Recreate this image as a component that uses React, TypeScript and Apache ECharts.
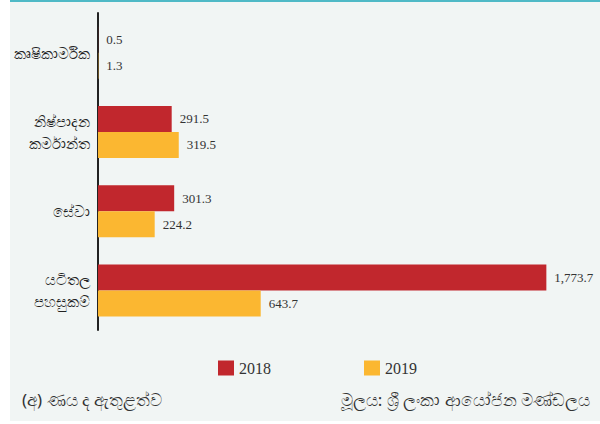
import React, { useEffect, useRef } from "react";
import * as echarts from "echarts";

const categories = ["කෘෂිකාර්මික", "නිෂ්පාදන\nකර්මාන්ත", "සේවා", "යටිතල\nපහසුකම්"];
const values2018 = [0.5, 291.5, 301.3, 1773.7];
const values2019 = [1.3, 319.5, 224.2, 643.7];
const seriesNames = ["2018", "2019"];
const footnoteLeft = "(අ) ණය ද ඇතුළත්ව";
const footnoteRight = "මූලය: ශ්‍රී ලංකා ආයෝජන මණ්ඩලය";

const RED = "#c1272d";
const YELLOW = "#fbb731";
const SERIF = "Liberation Serif";
const SANS = "Noto Sans";

const fmt = (v: number) =>
  v.toLocaleString("en-US", { minimumFractionDigits: 1, maximumFractionDigits: 1 });

export default function App() {
  const ref = useRef<HTMLDivElement>(null);
  useEffect(() => {
    if (!ref.current) return;
    const chart = echarts.init(ref.current, null, { renderer: "svg" });
    const label = {
      show: true,
      position: "right" as const,
      distance: 8,
      color: "#333",
      fontFamily: SERIF,
      fontSize: 13,
      formatter: (p: any) => fmt(p.value),
    };
    chart.setOption({
      animation: false,
      backgroundColor: "#ffffff",
      textStyle: { fontFamily: SERIF },
      graphic: [
        { type: "rect", z: -10, shape: { x: 10, y: 0, width: 590, height: 421 }, style: { fill: "#f1f5f4" } },
        { type: "rect", z: -9, shape: { x: 10, y: 0, width: 590, height: 2 }, style: { fill: "#4fb9c6" } },
        {
          type: "text",
          left: 22,
          top: 391,
          style: { text: footnoteLeft, fontFamily: SANS, fontSize: 17, fill: "#333" },
        },
        {
          type: "text",
          right: 10,
          top: 391,
          style: { text: footnoteRight, fontFamily: SANS, fontSize: 17, fill: "#333" },
        },
      ],
      legend: {
        top: 360,
        left: 218,
        padding: 0,
        itemWidth: 16,
        itemHeight: 15,
        itemGap: 93,
        icon: "rect",
        textStyle: { fontFamily: SERIF, fontSize: 16, color: "#333" },
        data: seriesNames,
      },
      grid: { left: 98, top: 13, width: 455, height: 317, containLabel: false },
      xAxis: {
        type: "value",
        min: 0,
        max: 1800,
        show: false,
        splitLine: { show: false },
      },
      yAxis: {
        type: "category",
        inverse: true,
        data: categories,
        axisLine: { show: true, lineStyle: { color: "#222", width: 2 } },
        axisTick: { show: false },
        axisLabel: {
          margin: 8,
          fontFamily: SANS,
          fontSize: 15,
          lineHeight: 22,
          color: "#222",
          align: "right",
        },
      },
      series: [
        {
          name: seriesNames[0],
          type: "bar",
          data: values2018,
          barWidth: 26,
          barGap: "0%",
          itemStyle: { color: RED },
          label,
        },
        {
          name: seriesNames[1],
          type: "bar",
          data: values2019,
          barWidth: 26,
          barGap: "0%",
          itemStyle: { color: YELLOW },
          label,
        },
      ],
    });
    return () => chart.dispose();
  }, []);
  return (
    <div
      ref={ref}
      style={{ position: "fixed", left: 0, top: 0, width: 600, height: 424 }}
    />
  );
}
